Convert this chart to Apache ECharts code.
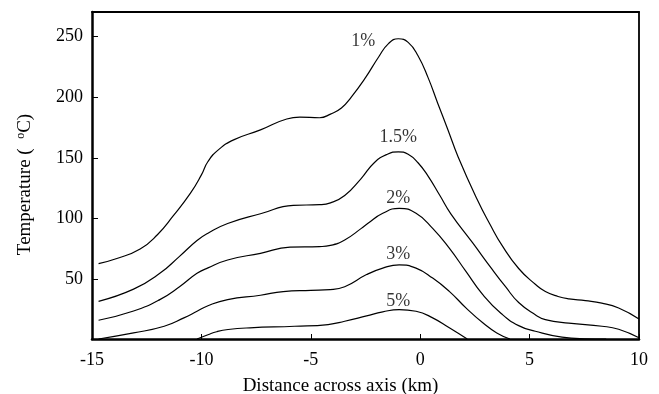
<!DOCTYPE html>
<html><head><meta charset="utf-8">
<script src="https://cdn.jsdelivr.net/npm/echarts@6/dist/echarts.min.js"></script>
<style>html,body{margin:0;padding:0;background:#fff}#c{width:659px;height:394px}</style>
</head><body><div id="c"></div>
<script>
const xTicks = [-15, -10, -5, 0, 5, 10];
const yTicks = [50, 100, 150, 200, 250];
const curve1 = [[-14.7,63],[-13.9,67],[-12.8,75],[-12,87],[-11.3,102],[-10.5,121],[-10,136],[-9.7,147],[-9.2,157],[-8.5,165],[-7.3,173],[-6.1,182],[-5.5,183.5],[-4.6,183],[-4.1,186],[-3.6,191],[-3.15,200],[-2.5,216],[-1.9,233],[-1.45,244],[-1.0,248],[-0.55,245],[-0.1,234],[0.36,216],[0.8,195],[1.27,173],[1.73,151],[2.6,116],[3.2,95],[3.74,78],[4.5,59],[5.26,46],[5.72,40],[6.3,36],[6.8,34],[7.55,32.5],[8.3,30.5],[9.07,26.5],[10,17.5]];
const curve15 = [[-14.7,32],[-13.1,42],[-11.9,55],[-11,69],[-10.2,82],[-9.7,88],[-8.8,96],[-7.3,104],[-5.8,111],[-4.6,111.5],[-4.1,113],[-3.45,119],[-2.7,133],[-2.1,146],[-1.5,153],[-1.0,155],[-0.55,153],[-0.1,146],[0.36,135],[0.9,119],[1.4,104],[2.4,80],[3.3,58],[3.9,44],[4.5,31],[5.26,21],[5.72,17],[6.79,14],[8.31,11.5],[9.07,9],[10,2]];
const curve2 = [[-14.7,16.4],[-13.1,24],[-11.9,33.4],[-11,44],[-10.2,55],[-9.7,59.5],[-8.8,66],[-7.3,71.5],[-5.95,76.5],[-4.6,77],[-4.1,78],[-3.45,82.5],[-2.69,92],[-2.4,96],[-1.71,104.4],[-0.96,108.5],[-0.19,104.4],[0.57,92],[1.33,75.7],[2.09,56.6],[2.86,37.5],[3.7,22],[4.5,12],[5.26,7.4],[6.48,2.5],[7.5,1.2],[8.5,1]];
const curve3 = [[-14.7,1],[-13.1,6],[-11.7,11.5],[-10.8,18.4],[-10.2,23.8],[-9.7,28.4],[-8.8,33.4],[-7.3,37],[-6.26,40],[-5,41],[-4.12,41.6],[-3.45,44],[-2.45,54],[-1.71,59.3],[-0.96,62],[-0.19,59.3],[0.57,51.1],[1.33,40.2],[2.09,26.6],[2.86,14.3],[3.5,6],[4.1,1]];
const curve5 = [[-10.2,1],[-9.7,4.5],[-9.3,7],[-8.78,8.8],[-7.78,10.2],[-5.74,11.5],[-4.21,12.9],[-3.45,15.6],[-2.45,20],[-1.71,23.3],[-0.96,25.2],[-0.19,23.8],[0.57,18.4],[1.33,10.2],[2.15,1]];
const curveNames = ['1%', '1.5%', '2%', '3%', '5%'];
const labelAnchors = [[-2.6,246],[-1.0,167],[-1.0,116.5],[-1.0,70.5],[-1.0,32]];

const FONT = 'Liberation Serif';
const curves = [curve1, curve15, curve2, curve3, curve5];
const chart = echarts.init(document.getElementById('c'), null, {renderer: 'canvas'});
const frameAxis = (lw) => ({show: true, onZero: false, lineStyle: {color: '#000', width: lw}});
const series = curves.map((d, i) => ({
  name: curveNames[i], type: 'line', data: d, smooth: 0.5, showSymbol: false, symbol: 'none',
  lineStyle: {color: '#000', width: 1.2}, xAxisIndex: 0, yAxisIndex: 0, z: 3
}));
series.push({
  type: 'scatter', symbolSize: 0, xAxisIndex: 0, yAxisIndex: 0,
  data: labelAnchors.map((p, i) => [p[0], p[1], curveNames[i]]),
  label: {show: true, position: 'inside', formatter: p => p.value[2], color: '#000', fontFamily: FONT, fontSize: 18},
  silent: true
});
chart.setOption({
  animation: false,
  backgroundColor: '#fff',
  grid: {left: 92, right: 20, top: 12, bottom: 55, outerBoundsMode: 'none', containLabel: false},
  xAxis: [{
    type: 'value', min: -15, max: 10, interval: 5, position: 'bottom',
    axisLine: frameAxis(2.5),
    axisTick: {show: true, inside: true, length: 5, lineStyle: {color: '#000', width: 1}},
    axisLabel: {color: '#000', fontFamily: FONT, fontSize: 18, margin: 12,
      formatter: v => xTicks.includes(v) ? String(v) : ''},
    splitLine: {show: false},
    name: 'Distance across axis (km)', nameLocation: 'middle', nameGap: 38,
    nameTextStyle: {color: '#000', fontFamily: FONT, fontSize: 19, padding: [0, 50, 0, 0]}
  }, {
    type: 'value', min: -15, max: 10, position: 'top',
    axisLine: frameAxis(1.8), axisTick: {show: false}, axisLabel: {show: false}, splitLine: {show: false}
  }],
  yAxis: [{
    type: 'value', min: 1, max: 270, position: 'left',
    axisLine: frameAxis(2.5),
    axisTick: {show: true, inside: true, length: 6, customValues: yTicks, lineStyle: {color: '#000', width: 1}},
    axisLabel: {color: '#000', fontFamily: FONT, fontSize: 18, margin: 9, customValues: yTicks},
    splitLine: {show: false},
    name: 'Temperature (  {sup|o}C)', nameLocation: 'middle', nameRotate: 90, nameGap: 57,
    nameTextStyle: {color: '#000', fontFamily: FONT, fontSize: 19, padding: [0, 18, 0, 0],
      rich: {sup: {fontFamily: FONT, fontSize: 12, color: '#000', verticalAlign: 'top', padding: [0, 0, 8, 0]}}}
  }, {
    type: 'value', min: 1, max: 270, position: 'right',
    axisLine: frameAxis(1.8), axisTick: {show: false}, axisLabel: {show: false}, splitLine: {show: false}
  }],
  series: series
});
</script></body></html>
